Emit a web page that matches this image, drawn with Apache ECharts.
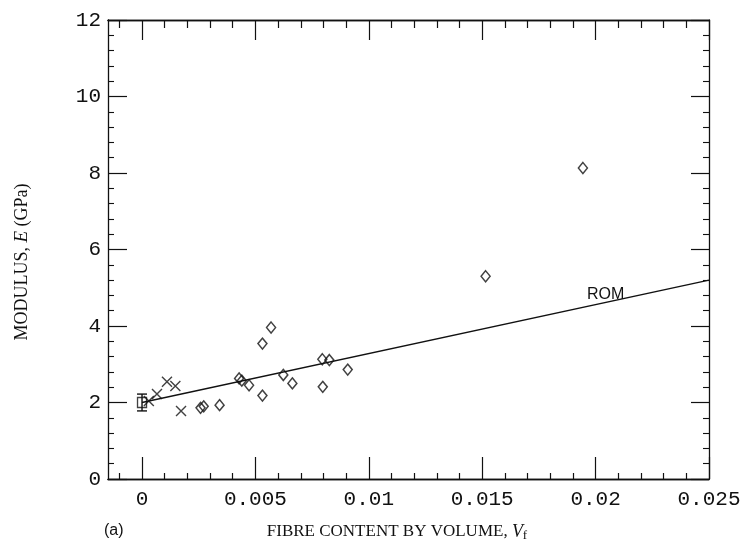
<!DOCTYPE html>
<html>
<head>
<meta charset="utf-8">
<script src="https://cdn.jsdelivr.net/npm/echarts@6/dist/echarts.min.js"></script>
<style>
  html, body { margin: 0; padding: 0; background: #fff; }
  #chart { width: 749px; height: 548px; }
</style>
</head>
<body>
<div id="chart"></div>
<script>
// Matrix (unreinforced) modulus with its scatter band
const matrixX = [0];
const matrixY = [2.0];
const matrixErr = [0.22];

// Specimens marked with crosses
const crossX = [0.0003, 0.00066, 0.0011, 0.00147, 0.00172];
const crossY = [2.04, 2.22, 2.54, 2.43, 1.78];

// Specimens marked with diamonds
const diamondX = [0.00258, 0.00272, 0.00342, 0.00428, 0.0044, 0.00472, 0.00531, 0.00531,
                  0.00569, 0.00623, 0.00663, 0.00795, 0.00826, 0.00797, 0.00907, 0.01515, 0.01944];
const diamondY = [1.86, 1.90, 1.93, 2.63, 2.57, 2.45, 2.18, 3.54,
                  3.96, 2.72, 2.50, 3.13, 3.11, 2.41, 2.86, 5.30, 8.13];

// Rule-of-mixtures prediction (end points of the straight line)
const romX = [0, 0.025];
const romY = [2.0, 5.2];

// Axis ticks
const xMajorTicks = [0, 0.005, 0.01, 0.015, 0.02, 0.025];
const xMinorStep = 0.001;
const xRange = [-0.0015, 0.025];
const yRange = [0, 12];
const yStep = 2;

const xMinorTicks = [];
for (let k = -1; k <= 25; k++) {
  const v = +(k * xMinorStep).toFixed(4);
  if (v > xRange[0] && v < xRange[1] && k % 5 !== 0) xMinorTicks.push(v);
}

const zip = (xs, ys) => xs.map((x, i) => [x, ys[i]]);

const ink = '#111';
const tickFont = { fontFamily: 'Liberation Mono', fontSize: 21, color: ink };

function xAxisDef(pos, ticks, len, withLabels) {
  return {
    type: 'value', position: pos, min: xRange[0], max: xRange[1],
    axisLine: { show: true, onZero: false, lineStyle: { color: ink, width: 1.3 } },
    axisTick: { show: true, inside: true, length: len, customValues: ticks,
                lineStyle: { color: ink, width: 1.2 } },
    axisLabel: withLabels ? Object.assign({ show: true, customValues: xMajorTicks, margin: 10,
                showMinLabel: true, showMaxLabel: true,
                formatter: v => String(v) }, tickFont) : { show: false },
    splitLine: { show: false }
  };
}

function yAxisDef(pos, len, withLabels) {
  return {
    type: 'value', position: pos, min: yRange[0], max: yRange[1], interval: yStep,
    axisLine: { show: true, onZero: false, lineStyle: { color: ink, width: 1.3 } },
    axisTick: { show: true, inside: true, length: len, lineStyle: { color: ink, width: 1.2 } },
    minorTick: { show: true, splitNumber: 5, length: 6, lineStyle: { color: ink, width: 1.1 } },
    axisLabel: withLabels ? Object.assign({ show: true, margin: 7 }, tickFont) : { show: false },
    splitLine: { show: false }
  };
}

const chart = echarts.init(document.getElementById('chart'), null, { renderer: 'canvas' });

chart.setOption({
  animation: false,
  backgroundColor: '#fff',
  grid: { left: 108, right: 40, top: 20, bottom: 69, containLabel: false },
  xAxis: [
    xAxisDef('bottom', xMajorTicks, 22, true),
    xAxisDef('top', xMajorTicks, 20, false),
    xAxisDef('top', xMinorTicks, 8, false),     // flipped to the free bottom slot
    xAxisDef('bottom', xMinorTicks, 6, false)   // flipped to the free top slot
  ],
  yAxis: [
    yAxisDef('left', 19, true),
    yAxisDef('right', 18, false)
  ],
  series: [
    {
      type: 'line', name: 'ROM', data: zip(romX, romY),
      symbol: 'none', lineStyle: { color: ink, width: 1.4 }, z: 2
    },
    {
      type: 'custom', name: 'matrix band',
      data: matrixX.map((x, i) => [x, matrixY[i], matrixErr[i]]),
      renderItem: (params, api) => {
        const x = api.value(0), y = api.value(1), e = api.value(2);
        const hi = api.coord([x, y + e]);
        const lo = api.coord([x, y - e]);
        const cap = 5;
        const st = { stroke: ink, lineWidth: 1.4 };
        return {
          type: 'group',
          children: [
            { type: 'line', shape: { x1: hi[0], y1: hi[1], x2: lo[0], y2: lo[1] }, style: st },
            { type: 'line', shape: { x1: hi[0] - cap, y1: hi[1], x2: hi[0] + cap, y2: hi[1] }, style: st },
            { type: 'line', shape: { x1: lo[0] - cap, y1: lo[1], x2: lo[0] + cap, y2: lo[1] }, style: st }
          ]
        };
      },
      z: 3
    },
    {
      type: 'scatter', name: 'matrix', data: zip(matrixX, matrixY),
      symbol: 'rect', symbolSize: [9, 10],
      itemStyle: { color: 'rgba(255,255,255,0)', borderColor: ink, borderWidth: 1.4 }, z: 4
    },
    {
      type: 'scatter', name: 'crosses', data: zip(crossX, crossY),
      symbol: 'path://M0,0L10,10M10,0L0,10', symbolSize: 10,
      itemStyle: { color: 'rgba(255,255,255,0)', borderColor: ink, borderWidth: 1.4 }, z: 4
    },
    {
      type: 'scatter', name: 'diamonds', data: zip(diamondX, diamondY),
      symbol: 'diamond', symbolSize: [9, 11],
      itemStyle: { color: 'rgba(255,255,255,0)', borderColor: ink, borderWidth: 1.5 }, z: 4
    }
  ],
  graphic: [
    {
      type: 'text', left: 587, top: 287,
      style: { text: 'ROM', fill: ink, font: '16px "Liberation Sans"' }
    },
    {
      type: 'text', left: 104, top: 523,
      style: { text: '(a)', fill: ink, font: '16px "Liberation Sans"' }
    },
    {
      type: 'text', x: 397, y: 532,
      style: {
        text: '{t|FIBRE CONTENT BY VOLUME, }{v|V}{s|f}',
        align: 'center', verticalAlign: 'middle',
        rich: {
          t: { fontFamily: 'Liberation Serif', fontSize: 17, fill: ink },
          v: { fontFamily: 'Liberation Serif', fontStyle: 'italic', fontSize: 18, fill: ink },
          s: { fontFamily: 'Liberation Serif', fontSize: 13, fill: ink, verticalAlign: 'bottom', padding: [7, 0, 0, 0] }
        }
      }
    },
    {
      type: 'text', x: 22, y: 262, rotation: Math.PI / 2,
      style: {
        text: '{t|MODULUS, }{e|E}{t| (GPa)}',
        align: 'center', verticalAlign: 'middle',
        rich: {
          t: { fontFamily: 'Liberation Serif', fontSize: 18, fill: ink },
          e: { fontFamily: 'Liberation Serif', fontStyle: 'italic', fontSize: 19, fill: ink }
        }
      }
    }
  ]
});
</script>
</body>
</html>
